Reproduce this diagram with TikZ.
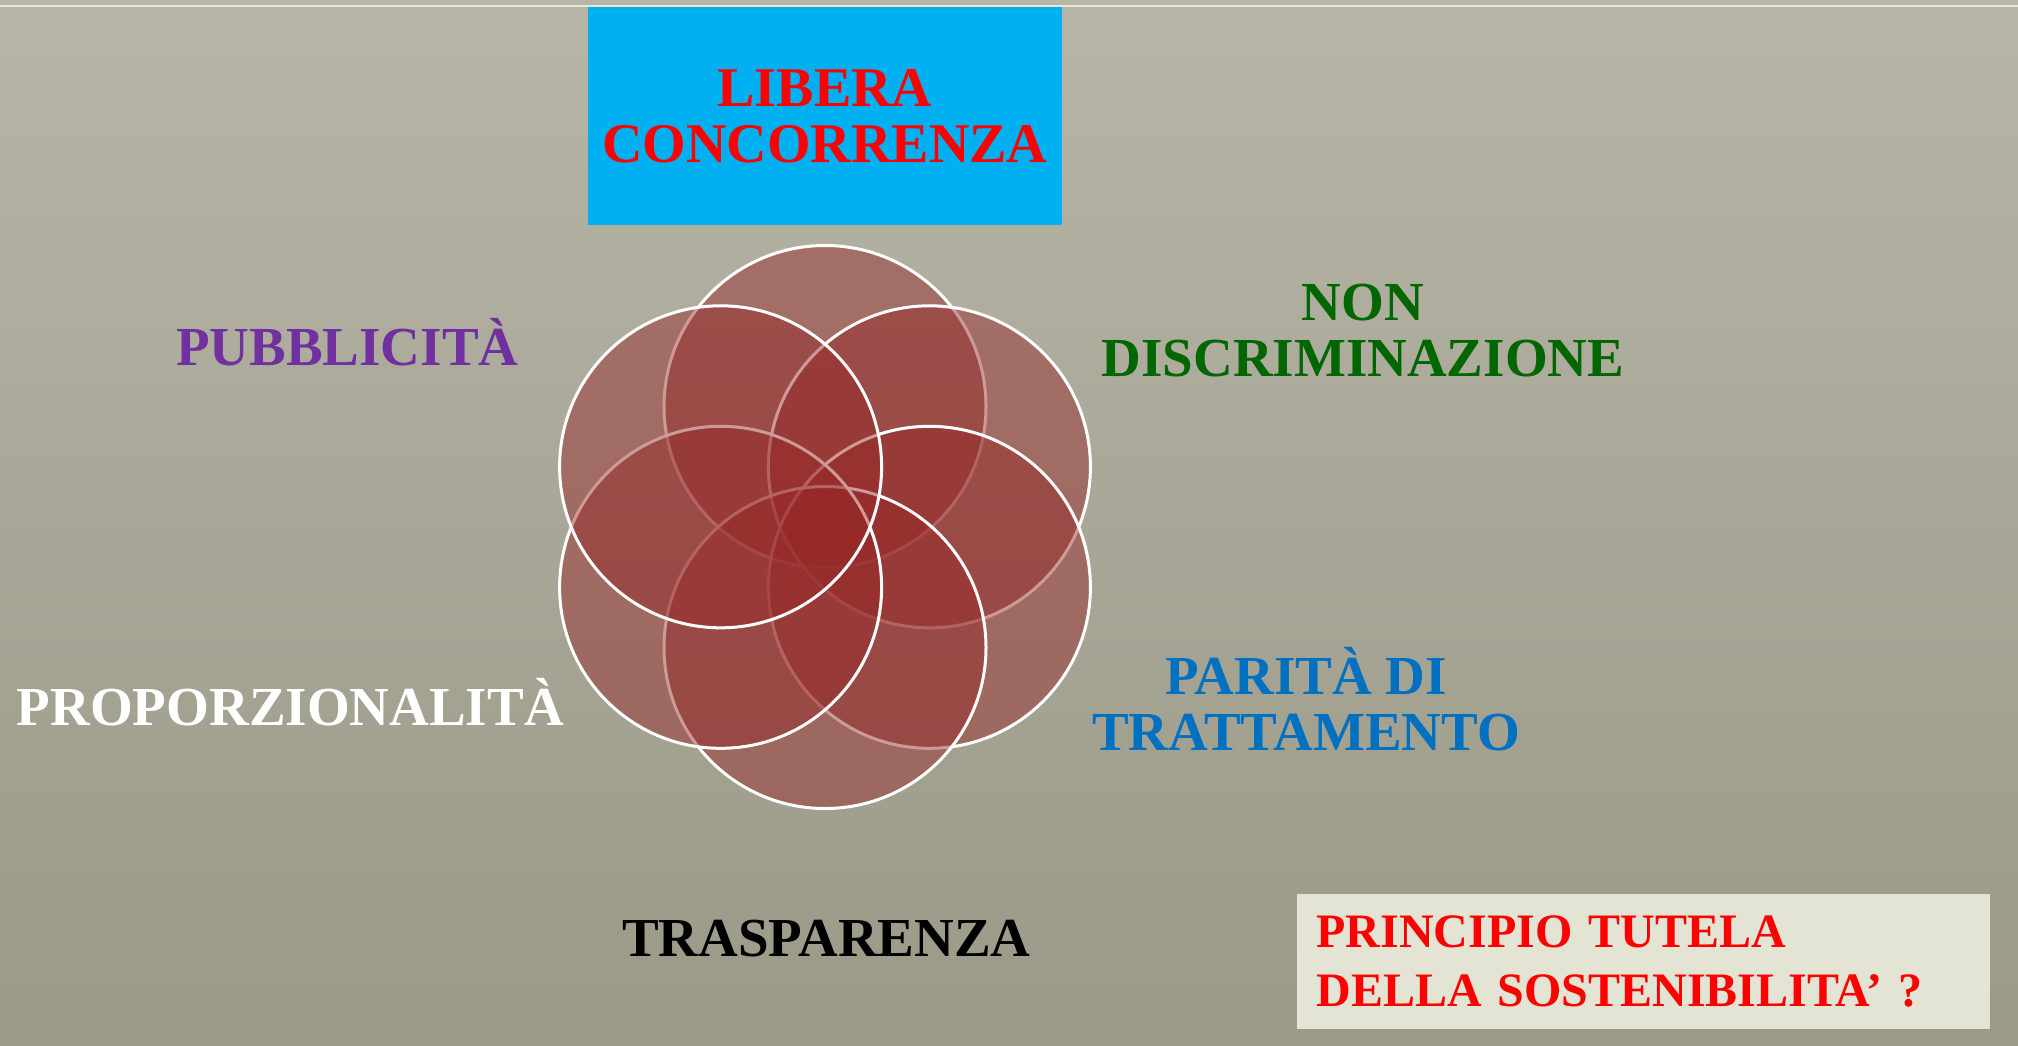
\documentclass[tikz,border=0pt]{standalone}
\usepackage{fontspec}
\setmainfont{Liberation Serif}
\definecolor{bgtop}{RGB}{182,181,167}
\definecolor{bgbot}{RGB}{155,154,136}
\definecolor{topline}{RGB}{232,230,212}
\definecolor{skyblue}{RGB}{0,176,240}
\definecolor{petal}{RGB}{150,40,40}
\definecolor{cream}{RGB}{228,228,212}
\definecolor{lblpurple}{RGB}{112,48,160}
\definecolor{lblgreen}{RGB}{0,102,0}
\definecolor{lblblue}{RGB}{0,112,192}
\begin{document}
\begin{tikzpicture}[x=1pt,y=-1pt,
  petalstyle/.style={circle, minimum size=322pt, inner sep=0pt, fill=petal, fill opacity=0.47, draw=white, draw opacity=1, line width=3pt},
  lbl/.style={font=\fontsize{55}{56}\selectfont\bfseries, inner sep=0pt},
]
\useasboundingbox (0,0) rectangle (2018,1045);
\shade[top color=bgtop, bottom color=bgbot] (0,0) rectangle (2018,1045);
\draw[topline, line width=2pt] (0,6) -- (2018,6);

% title box
\node[lbl, font=\fontsize{56}{56}\selectfont\bfseries, text=red, fill=skyblue, minimum width=474pt, minimum height=218pt, align=center] (libera) at (825,116) {LIBERA\\CONCORRENZA};

% petals (drawn clockwise from top)
\node[petalstyle] (ptop) at (825,406.5) {};
\node[petalstyle] (pur)  at (929.4,466.8) {};
\node[petalstyle] (plr)  at (929.4,587.3) {};
\node[petalstyle] (pbot) at (825,647.5) {};
\node[petalstyle] (pll)  at (720.6,587.3) {};
\node[petalstyle] (pul)  at (720.6,466.8) {};

% labels
\node[lbl, text=lblpurple, anchor=base west] (pubb) at (176,365.7) {PUBBLICITÀ};
\node[lbl, text=lblgreen, align=center, anchor=base] (nondisc) at (1363,376) {NON\\DISCRIMINAZIONE};
\node[lbl, text=lblblue, align=center, anchor=base] (parita) at (1306,750) {PARITÀ DI\\TRATTAMENTO};
\node[lbl, text=white, anchor=base west] (prop) at (16.6,725) {PROPORZIONALITÀ};
\node[lbl, text=black, anchor=base west] (trasp) at (622,956.7) {TRASPARENZA};

% question box
\node[font=\fontsize{48}{59}\selectfont\bfseries, text=red, fill=cream, text width=654pt, align=left, inner xsep=19.5pt, inner ysep=0pt, minimum height=135pt] (sost) at (1643.5,961.5) {PRINCIPIO TUTELA\\DELLA SOSTENIBILITA’ ?};
\end{tikzpicture}
\end{document}
